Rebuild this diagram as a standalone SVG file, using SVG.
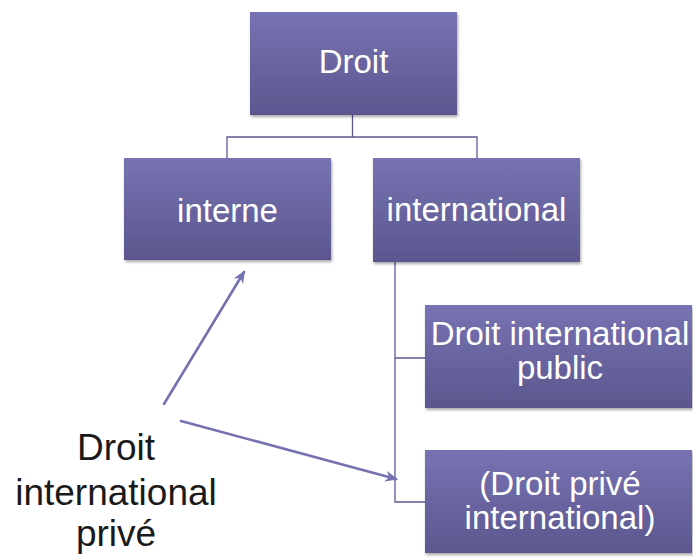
<svg xmlns="http://www.w3.org/2000/svg" width="693" height="557" viewBox="0 0 693 557">
  <style>
    .box { fill: url(#boxFill); filter: url(#shadow); }
    .label { font-family: "Liberation Sans", Arial, sans-serif; font-size: 33px; fill: #ffffff; text-anchor: middle; }
    .free { font-family: "Liberation Sans", Arial, sans-serif; font-size: 37px; fill: #1a1a1a; text-anchor: middle; }
    .tree { fill: none; stroke: #5c5990; stroke-width: 1.3; }
    .pointer { fill: none; stroke: #7572b2; stroke-width: 2.6; stroke-linecap: round; marker-end: url(#head); }
  </style>
  <defs>
    <linearGradient id="boxFill" x1="0" y1="0" x2="0" y2="1">
      <stop offset="0" stop-color="#7773b3"/>
      <stop offset="1" stop-color="#5b578e"/>
    </linearGradient>
    <filter id="shadow" x="-5%" y="-5%" width="112%" height="115%">
      <feGaussianBlur in="SourceAlpha" stdDeviation="1.5"/>
      <feOffset dx="1" dy="2" result="b"/>
      <feComponentTransfer><feFuncA type="linear" slope="0.35"/></feComponentTransfer>
      <feMerge><feMergeNode/><feMergeNode in="SourceGraphic"/></feMerge>
    </filter>
    <marker id="head" viewBox="0 0 12 10" refX="10" refY="5" markerWidth="5" markerHeight="4.5" orient="auto" markerUnits="strokeWidth">
      <path d="M0,0 L12,5 L0,10 L3.5,5 Z" fill="#7572b2"/>
    </marker>
  </defs>

  <!-- tree connectors and the two pointer arrows -->
  <g id="connectors">
    <path class="tree" d="M352.5,115 V137 M227,158 V137 H477 V158"/>
    <path class="tree" d="M395,262 V502 H425 M395,358 H425"/>
    <line class="pointer" x1="164" y1="404" x2="244" y2="272"/>
    <line class="pointer" x1="181" y1="421" x2="396" y2="479"/>
  </g>

  <g id="droit">
    <rect class="box" x="250" y="12" width="207" height="103"/>
    <text class="label" x="353.5" y="73">Droit</text>
  </g>

  <g id="interne">
    <rect class="box" x="124" y="158" width="207" height="102"/>
    <text class="label" x="227.5" y="222">interne</text>
  </g>

  <g id="international">
    <rect class="box" x="373" y="158" width="207" height="104"/>
    <text class="label" x="476.5" y="221">international</text>
  </g>

  <g id="droit-international-public">
    <rect class="box" x="425" y="305" width="267" height="103"/>
    <text class="label" x="560" y="345">Droit international</text>
    <text class="label" x="560" y="379">public</text>
  </g>

  <g id="droit-prive-international">
    <rect class="box" x="425" y="450" width="267" height="103"/>
    <text class="label" x="560" y="495">(Droit privé</text>
    <text class="label" x="560" y="529">international)</text>
  </g>

  <g id="droit-international-prive">
    <text class="free" x="116" y="460">Droit</text>
    <text class="free" x="116" y="505">international</text>
    <text class="free" x="116" y="546">privé</text>
  </g>
</svg>
